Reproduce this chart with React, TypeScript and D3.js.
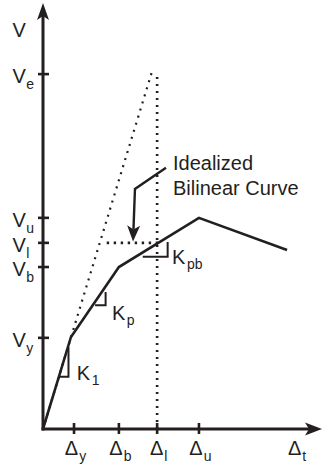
import React from "react";
import * as d3 from "d3";

// Displacement ticks (Δ) and force ticks (V), in normalized units
const dispTickNames = ["y", "b", "l", "u"];
const dispTickValues = [1.12, 2.74, 4.12, 5.63];
const dispEndName = "t";
const dispEndValue = 9.17;

const forceTickNames = ["y", "b", "l", "u", "e"];
const forceTickValues = [2.15, 3.82, 4.39, 4.98, 8.37];

// Pushover curve: yield, break, ultimate, terminal points
const curveDisp = [0, 1.01, 2.74, 5.63, 8.81];
const curveForce = [0, 2.17, 3.82, 4.98, 4.22];

// Elastic (dotted) line end point
const elasticDisp = [0, 3.94];
const elasticForce = [0, 8.44];

// Stiffness triangles: [x0, x1, yBottom, yTop]
const stiffNames = ["1", "p", "pb"];
const stiffX0 = [0.58, 1.88, 3.6];
const stiffX1 = [0.92, 2.26, 4.5];
const stiffYBottom = [1.23, 2.92, 4.06];
const stiffYTop = [1.93, 3.23, 4.41];
const stiffLabelX = [1.22, 2.49, 4.66];
const stiffLabelY = [1.16, 2.57, 3.88];

// Leader line for the annotation
const leaderDisp = [4.44, 3.32, 3.25];
const leaderForce = [6.16, 5.66, 4.42];
const noteLines = ["Idealized", "Bilinear Curve"];

const W = 322;
const H = 467;
const INK = "#231f20";
const FONT = "'Liberation Sans', Arial, Helvetica, sans-serif";

function arrowHead(tip: [number, number], from: [number, number], len: number, half: number, notch: number) {
  const dx = tip[0] - from[0];
  const dy = tip[1] - from[1];
  const d = Math.hypot(dx, dy);
  const ux = dx / d;
  const uy = dy / d;
  const px = -uy;
  const py = ux;
  const bx = tip[0] - ux * len;
  const by = tip[1] - uy * len;
  const nx = tip[0] - ux * (len - notch);
  const ny = tip[1] - uy * (len - notch);
  return `M${tip[0]},${tip[1]}L${bx + px * half},${by + py * half}L${nx},${ny}L${bx - px * half},${by - py * half}Z`;
}

export default function App() {
  const x = d3.scaleLinear().domain([0, 10]).range([43, 320]);
  const y = d3.scaleLinear().domain([0, 10]).range([429, 5]);

  const line = d3
    .line<number>()
    .x((_, i) => x(curveDisp[i]))
    .y((_, i) => y(curveForce[i]));
  const curvePath = line(curveDisp) || "";

  const elasticPath = d3.line()(elasticDisp.map((d, i) => [x(d), y(elasticForce[i])] as [number, number])) || "";

  const lIdx = dispTickNames.indexOf("l");
  const vlIdx = forceTickNames.indexOf("l");
  const veIdx = forceTickNames.indexOf("e");
  const xl = x(dispTickValues[lIdx]);
  const yl = y(forceTickValues[vlIdx]);
  const ye = y(forceTickValues[veIdx]);

  // leader polyline; the shaft stops inside the arrowhead
  const leaderPts = leaderDisp.map((d, i) => [x(d), y(leaderForce[i])] as [number, number]);
  const n = leaderPts.length;
  const arrowLen = 16;
  const tip = leaderPts[n - 1];
  const prev = leaderPts[n - 2];
  const seg = Math.hypot(tip[0] - prev[0], tip[1] - prev[1]);
  const back = (arrowLen - 4) / seg;
  const shaftEnd: [number, number] = [tip[0] + (prev[0] - tip[0]) * back, tip[1] + (prev[1] - tip[1]) * back];
  const leaderPath = d3.line()([...leaderPts.slice(0, n - 1), shaftEnd]) || "";

  const ox = x(0);
  const oy = y(0);

  return (
    <svg
      width={W}
      height={H}
      style={{ position: "absolute", left: 0, top: 0, background: "#fff" }}
      fontFamily={FONT}
      fill={INK}
    >
      {/* elastic line */}
      <path d={elasticPath} stroke={INK} strokeWidth={2.2} strokeDasharray="2 5.4" fill="none" />
      {/* vertical line at Δl */}
      <line x1={xl} x2={xl} y1={oy} y2={ye} stroke={INK} strokeWidth={2.6} strokeDasharray="2 5" />
      {/* horizontal line at Vl */}
      <line x1={x(2.3)} x2={xl + 2} y1={yl} y2={yl} stroke={INK} strokeWidth={2.6} strokeDasharray="2.4 4.6" />

      {/* pushover curve */}
      <path d={curvePath} stroke={INK} strokeWidth={2.6} fill="none" strokeLinejoin="miter" />

      {/* stiffness triangles */}
      {stiffNames.map((s, i) => (
        <g key={s}>
          <path
            d={`M${x(stiffX0[i])},${y(stiffYBottom[i])}H${x(stiffX1[i])}V${y(stiffYTop[i])}`}
            stroke={INK}
            strokeWidth={2}
            fill="none"
          />
          <text x={x(stiffLabelX[i])} y={y(stiffLabelY[i])} fontSize={20}>
            K
            <tspan fontSize={14} dx={1.5} dy={5}>
              {s}
            </tspan>
          </text>
        </g>
      ))}

      {/* axes */}
      <line x1={ox} x2={ox} y1={oy + 1.5} y2={y(10) + 10} stroke={INK} strokeWidth={3} />
      <line x1={ox - 1.5} x2={x(10) - 10} y1={oy} y2={oy} stroke={INK} strokeWidth={3} />
      <path d={arrowHead([ox, 3], [ox, oy], 17, 6, 4)} fill={INK} />
      <path d={arrowHead([322, oy], [ox, oy], 17, 6.5, 4)} fill={INK} />

      {/* force ticks */}
      {forceTickValues.map((v, i) => (
        <g key={`f${i}`}>
          <line x1={ox - 5} x2={ox + 6} y1={y(v)} y2={y(v)} stroke={INK} strokeWidth={2.6} />
          <text x={12.5} y={y(v) + 9} fontSize={20}>
            V
            <tspan fontSize={14} dx={0.5} dy={6}>
              {forceTickNames[i]}
            </tspan>
          </text>
        </g>
      ))}
      <text x={12.5} y={37} fontSize={20}>
        V
      </text>

      {/* displacement ticks */}
      {dispTickValues.map((v, i) => (
        <g key={`d${i}`}>
          <line x1={x(v)} x2={x(v)} y1={oy - 6} y2={oy + 5} stroke={INK} strokeWidth={2.6} />
          <text x={x(v) + 1.5} y={oy + 26} fontSize={20} textAnchor="middle">
            Δ
            <tspan fontSize={14} dx={1} dy={6}>
              {dispTickNames[i]}
            </tspan>
          </text>
        </g>
      ))}
      <text x={x(dispEndValue)} y={oy + 26} fontSize={20} textAnchor="middle">
        Δ
        <tspan fontSize={14} dx={1} dy={6}>
          {dispEndName}
        </tspan>
      </text>

      {/* annotation */}
      <path d={leaderPath} stroke={INK} strokeWidth={2.4} fill="none" />
      <path d={arrowHead(tip, prev, arrowLen, 6.5, 4)} fill={INK} />
      {noteLines.map((t, i) => (
        <text key={t} x={173} y={170 + i * 25} fontSize={20}>
          {t}
        </text>
      ))}
    </svg>
  );
}
